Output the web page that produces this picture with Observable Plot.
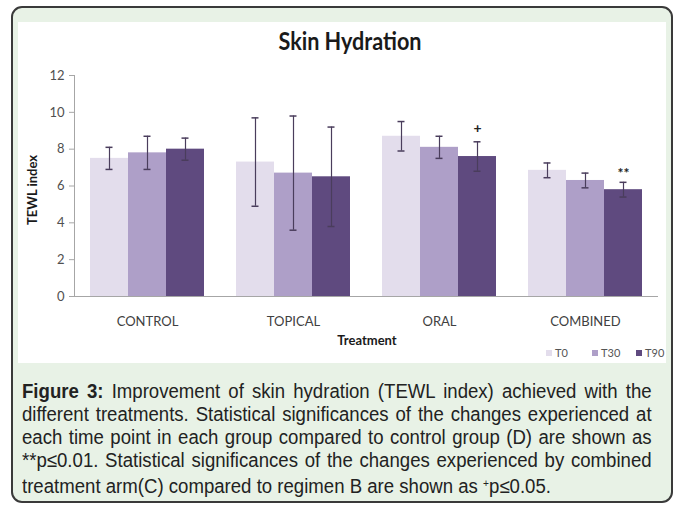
<!DOCTYPE html>
<html><head><meta charset="utf-8">
<script src="https://cdn.jsdelivr.net/npm/d3@7"></script>
<script src="https://cdn.jsdelivr.net/npm/@observablehq/plot@0.6"></script>
<style>
body{margin:0;width:677px;height:505px;background:#fff;position:relative;overflow:hidden;font-family:Lato,"Open Sans",sans-serif}
#box{position:absolute;left:11px;top:6px;width:662px;height:497px;border:2px solid #3a3a3a;border-radius:11px;background:#e8f2e6;box-sizing:border-box}
#panel{position:absolute;left:18px;top:22px;width:648px;height:341px;background:#fff}
#title{position:absolute;left:8px;width:648px;top:4px;text-align:center;font-weight:bold;font-size:24px;color:#1a1a1a;font-family:Lato,sans-serif;transform:scaleX(0.9)}
#ylab{position:absolute;left:14px;top:168px;transform:translate(-50%,-50%) rotate(-90deg);font-weight:bold;font-size:13px;color:#1a1a1a;white-space:nowrap}
#xlab{position:absolute;left:349px;top:310px;transform:translateX(-50%);font-weight:bold;font-size:13px;color:#1a1a1a}
#legend .item{position:absolute;top:324px;font-size:11px;color:#555;white-space:nowrap}
#legend span.sw{display:inline-block;width:6px;height:6px;margin-right:3px;vertical-align:1px}
#caption{position:absolute;left:22px;top:380px;width:630px;color:#222}
#caption div{width:677px;transform:scaleX(0.93);transform-origin:0 0;font-family:"Liberation Sans",Arial,sans-serif;font-size:20px;line-height:23px;height:23px;text-align:justify;text-align-last:justify;white-space:nowrap}
#caption div.last{text-align-last:left}
</style></head>
<body>
<div id="box"></div>
<div id="panel">
  <div id="title">Skin Hydration</div>
  <div id="chart"></div>
  <div id="ylab">TEWL index</div>
  <div id="xlab">Treatment</div>
  <div id="legend"></div>
</div>
<div id="caption"></div>
<script>
const categories = ["CONTROL", "TOPICAL", "ORAL", "COMBINED"];
const times = ["T0", "T30", "T90"];
const t0Values  = [7.5, 7.3, 8.7, 6.85];
const t30Values = [7.8, 6.7, 8.1, 6.3];
const t90Values = [8.0, 6.5, 7.6, 5.8];
const t0Err  = [0.6, 2.4, 0.8, 0.4];
const t30Err = [0.9, 3.1, 0.6, 0.4];
const t90Err = [0.6, 2.7, 0.8, 0.4];
const yTicks = [0, 2, 4, 6, 8, 10, 12];
const sigCats = ["ORAL", "COMBINED"];
const sigTimes = ["T90", "T90"];
const sigLabels = ["+", "**"];
const sigY = [9.1, 6.7];
const colors = ["#e3ddec", "#ae9fc8", "#5f4a7f"];
const legendLeft = [528, 574, 618];
const captionLines = [
  "<b>Figure 3:</b> Improvement of skin hydration (TEWL index) achieved with the",
  "different treatments. Statistical significances of the changes experienced at",
  "each time point in each group compared to control group (D) are shown as",
  "**p≤0.01. Statistical significances of the changes experienced by combined",
  "treatment arm(C) compared to regimen B are shown as <sup style='font-size:11px;vertical-align:6px'>+</sup>p≤0.05."
];

const valuesBy = [t0Values, t30Values, t90Values];
const errBy = [t0Err, t30Err, t90Err];
const rows = [];
categories.forEach((c, i) => times.forEach((t, j) => rows.push({cat: c, time: t, v: valuesBy[j][i], e: errBy[j][i]})));
const sigs = sigCats.map((c, i) => ({cat: c, time: sigTimes[i], y: sigY[i], label: sigLabels[i]}));

const chart = Plot.plot({
  width: 648,
  height: 341,
  marginLeft: 55,
  marginRight: 8,
  marginTop: 53,
  marginBottom: 67,
  style: {fontFamily: "Lato, sans-serif", fontSize: "13px", color: "#404040", background: "transparent"},
  fx: {domain: categories, padding: 0, label: null, axis: null},
  x: {domain: times, paddingInner: 0, paddingOuter: 0.39, axis: null},
  y: {domain: [0, 12], axis: null},
  color: {domain: times, range: colors},
  marks: [
    Plot.frame({anchor: "left", facetAnchor: "left", stroke: "#a6a6a6"}),
    Plot.axisY({ticks: yTicks, tickSize: 5, tickPadding: 5, stroke: "#a6a6a6", fill: "#505050", label: null, fontSize: 13}),
    Plot.axisFx({tickSize: 0, tickPadding: 20, label: null, fontSize: 13, fill: "#404040", anchor: "bottom"}),
    Plot.barY(rows, {fx: "cat", x: "time", y: "v", fill: "time"}),
    Plot.ruleY([0], {stroke: "#a6a6a6"}),
    Plot.ruleX(rows, {fx: "cat", x: "time", y1: d => d.v - d.e, y2: d => d.v + d.e, stroke: "#4a3d5c", strokeWidth: 1.2}),
    Plot.tickY(rows, {fx: "cat", x: "time", y: d => d.v - d.e, stroke: "#4a3d5c", strokeWidth: 1.5, inset: 15.5}),
    Plot.tickY(rows, {fx: "cat", x: "time", y: d => d.v + d.e, stroke: "#4a3d5c", strokeWidth: 1.5, inset: 15.5}),
    Plot.text(sigs, {fx: "cat", x: "time", y: "y", text: "label", fontSize: 14, fontWeight: "bold", fill: "#222"})
  ]
});
document.getElementById("chart").appendChild(chart);

const legend = document.getElementById("legend");
times.forEach((t, i) => {
  const item = document.createElement("div");
  item.className = "item";
  item.style.left = legendLeft[i] + "px";
  item.innerHTML = `<span class="sw" style="background:${colors[i]}"></span>${t}`;
  legend.appendChild(item);
});

const cap = document.getElementById("caption");
captionLines.forEach((l, i) => {
  const d = document.createElement("div");
  if (i === captionLines.length - 1) d.className = "last";
  d.innerHTML = l;
  cap.appendChild(d);
});
</script>
</body></html>
